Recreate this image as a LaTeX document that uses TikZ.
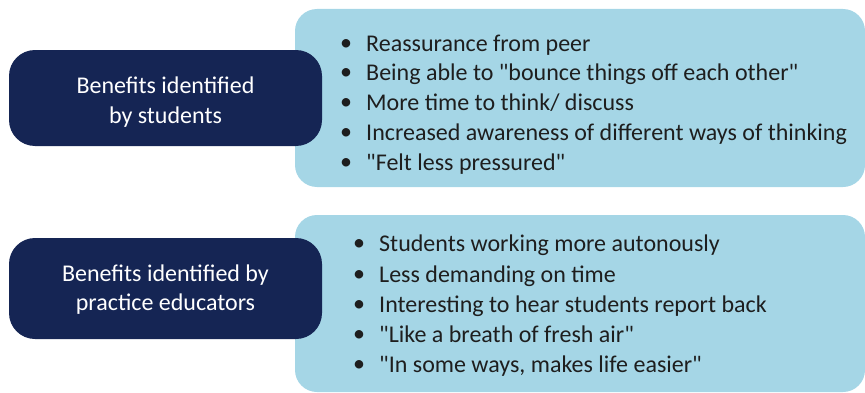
\documentclass[tikz,border=0pt]{standalone}
\usepackage{fontspec}
\setmainfont{Carlito}[Ligatures=TeXOff]
\definecolor{navy}{RGB}{21,37,84}
\definecolor{lightblue}{RGB}{165,214,230}
\definecolor{txt}{RGB}{30,30,30}
\begin{document}
\begin{tikzpicture}[x=1pt,y=1pt,
  lightbox/.style={fill=lightblue,draw=none,rounded corners=22pt},
  darkbox/.style={fill=navy,draw=none,rounded corners=26pt},
  headtext/.style={text=white,font=\fontsize{24}{29.5}\selectfont,align=center,inner sep=0pt},
  item/.style={anchor=base west,inner sep=0pt,text=txt,font=\fontsize{24}{28}\selectfont}]
\useasboundingbox (0,0) rectangle (865,392);
\begin{scope}
\clip (0,0) rectangle (865,392);
\fill[lightbox] (295,205) rectangle (865,383);
\fill[lightbox] (295,0) rectangle (865,177);
\end{scope}
\node[darkbox,minimum width=313pt,minimum height=96pt] (s) at (165.5,294) {};
\node[darkbox,minimum width=313pt,minimum height=101pt] (e) at (165.5,103.5) {};
\node[headtext] (st) at ([yshift=-4pt]s.center) {Benefits identified\\by students};
\node[headtext] (et) at ([yshift=-1pt]e.center) {Benefits identified by\\practice educators};
\newcommand{\bul}{\makebox[26pt][l]{\raisebox{0.5pt}{\textbullet}}}
\node[item] (a1) at (340,341) {\bul Reassurance from peer};
\node[item] (a2) at (340,312) {\bul Being able to "bounce things off each other"};
\node[item] (a3) at (340,282) {\bul More time to think/ discuss};
\node[item] (a4) at (340,252) {\bul Increased awareness of different ways of thinking};
\node[item] (a5) at (340,222) {\bul "Felt less pressured"};
\node[item] (b1) at (353,141) {\bul Students working more autonously};
\node[item] (b2) at (353,110) {\bul Less demanding on time};
\node[item] (b3) at (353,80) {\bul Interesting to hear students report back};
\node[item] (b4) at (353,50) {\bul "Like a breath of fresh air"};
\node[item] (b5) at (353,20) {\bul "In some ways, makes life easier"};
\end{tikzpicture}
\end{document}
